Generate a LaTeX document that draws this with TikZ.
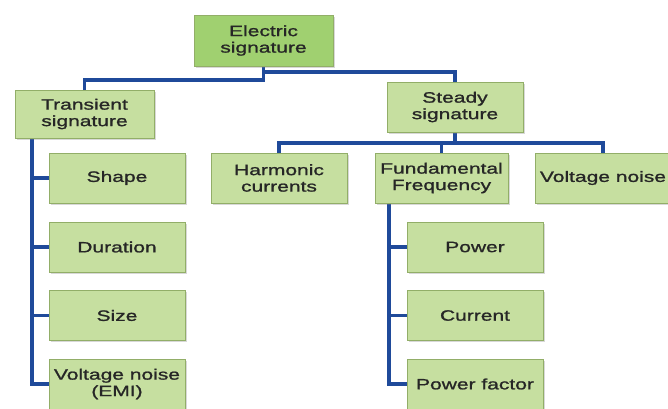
\documentclass[tikz,border=0pt]{standalone}
\usepackage{fontspec}
\setmainfont{Liberation Sans}[FakeStretch=1.4, FakeBold=1.2]
\usepackage{xcolor}
\usetikzlibrary{shadows, positioning, backgrounds}

\definecolor{linkblue}{HTML}{1F4A9A}
\definecolor{leafgreen}{HTML}{C6DFA0}
\definecolor{rootgreen}{HTML}{A0D070}
\definecolor{edgegreen}{HTML}{92AE68}

\begin{document}
\begin{tikzpicture}[
    x=1pt, y=-1pt,
    box/.style={rectangle, draw=edgegreen, line width=0.8pt, fill=leafgreen, align=center,
        minimum width=136pt, minimum height=50pt, inner sep=1pt,
        font=\fontsize{15}{16.5}\selectfont, text=black!85,
        drop shadow={shadow xshift=1.5pt, shadow yshift=-1.5pt, opacity=0.3}},
    root/.style={box, fill=rootgreen, minimum width=139pt, minimum height=51pt},
    link/.style={draw=linkblue, line width=3.4pt, line join=miter}
]
    \useasboundingbox (0,0) rectangle (668,408);

    % Root
    \node[root] (elec) at (263.5,40.5) {Electric\\signature};

    % Second level
    \node[box, minimum width=139pt, minimum height=48pt] (trans) at (84.5,114) {Transient\\signature};
    \node[box] (steady) at (455,107) {Steady\\signature};

    % Steady children
    \node[box] (harm) at (279,178) {Harmonic\\currents};
    \node[box, minimum width=133pt] (fund) at (441.5,178) {Fundamental\\Frequency};
    \node[box] (vnoise) at (603,178) {Voltage noise};

    % Transient children
    \node[box] (shape) at (117,178) {Shape};
    \node[box] (duration) at (117,247) {Duration};
    \node[box] (size) at (117,315.5) {Size};
    \node[box] (emi) at (117,384) {Voltage noise\\(EMI)};

    % Fundamental children
    \node[box] (power) at (475,247) {Power};
    \node[box] (current) at (475,315.5) {Current};
    \node[box] (pfactor) at (475,384) {Power factor};

    % Bus lines
    \coordinate (busA) at (0,80);
    \coordinate (busB) at (0,72);
    \coordinate (busC) at (0,143);
    \coordinate (trunkT) at (32,0);
    \coordinate (trunkF) at (389,0);

    % Connections, behind the boxes
    \begin{scope}[on background layer]
    \fill[white] (0,0) rectangle (668,408);
    \draw[link] (elec.south) -- (elec.south |- busA) -| (trans.north);
    \draw[link] (elec.south) -- (elec.south |- busB) -| (steady.north);
    \draw[link] (steady.south) -- (steady.south |- busC) -| (harm.north);
    \draw[link] (steady.south |- busC) -| (fund.north);
    \draw[link] (steady.south |- busC) -| (vnoise.north);
    \draw[link] (trunkT |- trans.south) |- (emi.west);
    \foreach \leaf in {shape,duration,size} \draw[link] (trunkT |- \leaf.west) -- (\leaf.west);
    \draw[link] (trunkF |- fund.south) |- (pfactor.west);
    \foreach \leaf in {power,current} \draw[link] (trunkF |- \leaf.west) -- (\leaf.west);
    \end{scope}
\end{tikzpicture}
\end{document}
